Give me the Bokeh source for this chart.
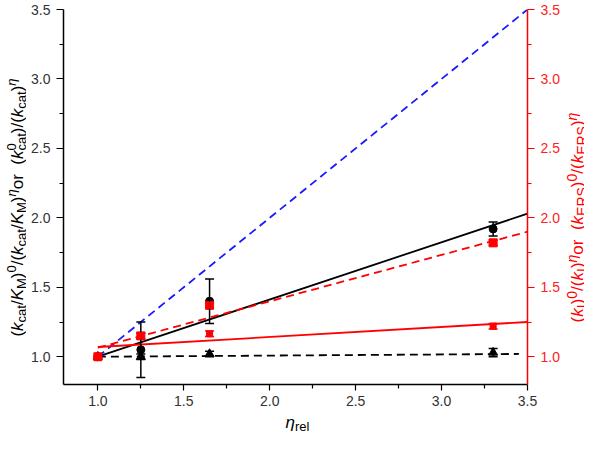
import math
from bokeh.plotting import figure
from bokeh.layouts import row, column
from bokeh.models import (Range1d, LinearAxis, FixedTicker, NumeralTickFormatter,
                          Whisker, ColumnDataSource, TeeHead)
from bokeh.core.properties import value
from bokeh.embed import file_html
from bokeh.resources import INLINE

# ---------------- data ----------------
eta_rel = [1.0, 1.25, 1.65, 3.3]
kcatKM_ratio = [1.00, 1.05, 1.40, 1.92]
kcatKM_err = [0.0, 0.20, 0.16, 0.05]
kcat_ratio = [1.00, 1.00, 1.02, 1.03]
kcat_err = [0.0, 0.02, 0.02, 0.03]
kI_ratio = [1.00, 1.15, 1.37, 1.82]
kI_err = [0.0, 0.02, 0.02, 0.02]
kERS_ratio = [1.00, 1.15, 1.165, 1.22]
kERS_err = [0.0, 0.02, 0.02, 0.02]

fit_x = [1.0, 3.5]
ideal_y = [1.0, 3.5]
kcatKM_fit = [1.0, 2.03]
kI_fit = [1.065, 1.90]
kERS_fit = [1.07, 1.25]
kcat_fit_x = [1.0, 3.45]
kcat_fit = [1.0, 1.02]

major_ticks = [1.0, 1.5, 2.0, 2.5, 3.0, 3.5]
minor_ticks = [1.25, 1.75, 2.25, 2.75, 3.25]

FONT = "Liberation Sans"

# ---------------- layout ----------------
TOTAL_W, TOTAL_H = 584, 433
LSTRIP, RSTRIP, BSTRIP = 26, 22, 21
FW, FH = 464, 375
BL, BR, BT, BB = 37, 35, 9, 28
MAIN_H = BT + FH + BB
X0, X1, Y0, Y1 = 0.8, 3.5, 0.8, 3.5

p = figure(frame_width=FW, frame_height=FH,
           x_range=Range1d(X0, X1), y_range=Range1d(Y0, Y1),
           min_border_left=BL, min_border_right=BR,
           min_border_top=BT, min_border_bottom=BB,
           output_backend="svg", toolbar_location=None)
p.grid.visible = False
p.outline_line_color = None
p.background_fill_color = "white"
p.border_fill_color = "white"


def style_axis(ax, color, label_color, tick_out, standoff):
    ax.ticker = FixedTicker(ticks=major_ticks, minor_ticks=minor_ticks)
    ax.formatter = NumeralTickFormatter(format="0.0")
    ax.axis_line_color = color
    ax.axis_line_width = 1.5
    ax.major_tick_line_color = color
    ax.minor_tick_line_color = color
    ax.major_tick_line_width = 1.2
    ax.minor_tick_line_width = 1.2
    ax.major_tick_in = 0
    ax.major_tick_out = tick_out
    ax.minor_tick_in = 0
    ax.minor_tick_out = 4
    ax.major_label_standoff = standoff
    ax.major_label_text_font = FONT
    ax.major_label_text_font_size = "14px"
    ax.major_label_text_color = label_color


style_axis(p.xaxis[0], "black", "#333333", 6, 5)
style_axis(p.yaxis[0], "black", "#333333", 7, 6)

rax = LinearAxis()
style_axis(rax, "red", "#ff2020", 7, 6)
p.add_layout(rax, "right")

# ---------------- fit lines ----------------
p.line(fit_x, ideal_y, line_color="#1a1aff", line_width=1.8, line_dash="8 5")
p.line(fit_x, kcatKM_fit, line_color="black", line_width=1.8)
p.line(fit_x, kI_fit, line_color="red", line_width=1.8, line_dash="8 5")
p.line(fit_x, kERS_fit, line_color="red", line_width=1.8)
p.line(kcat_fit_x, kcat_fit, line_color="black", line_width=1.8, line_dash="8 5")


# ---------------- error bars ----------------
def whiskers(ys, errs, color):
    xs = [x for x, e in zip(eta_rel, errs) if e > 0]
    up = [y + e for y, e in zip(ys, errs) if e > 0]
    lo = [y - e for y, e in zip(ys, errs) if e > 0]
    src = ColumnDataSource(dict(x=xs, upper=up, lower=lo))
    w = Whisker(source=src, base="x", upper="upper", lower="lower",
                line_color=color, line_width=1.5, level="glyph",
                upper_head=TeeHead(size=9, line_color=color, line_width=1.5),
                lower_head=TeeHead(size=9, line_color=color, line_width=1.5))
    p.add_layout(w)


whiskers(kcatKM_ratio, kcatKM_err, "black")
whiskers(kcat_ratio, kcat_err, "black")
whiskers(kI_ratio, kI_err, "red")
whiskers(kERS_ratio, kERS_err, "red")

# ---------------- markers ----------------
p.scatter(eta_rel, kcatKM_ratio, marker="circle", size=8, color="black")
p.scatter(eta_rel, kcat_ratio, marker="triangle", size=9, color="black")
p.scatter(eta_rel, kI_ratio, marker="square", size=8, color="red")
p.scatter(eta_rel, kERS_ratio, marker="square", size=6, color="red")

# ---------------- rich-text axis titles (in strip figures) ----------------
W = {'(': .333, ')': .333, '/': .278, ' ': .278, '0': .556, 'k': .5, 'K': .667,
     'c': .5, 'a': .556, 't': .278, 'M': .833, 'o': .556, 'r': .333, 'I': .278,
     'E': .667, 'R': .722, 'S': .667, 'e': .556, 'l': .222, 'η': .556}

SUB_SHIFT, SUP_SHIFT = 4, -6


def tw(s, size):
    return sum(W.get(c, .556) for c in s) * size


def seg(t, kind="n", it=False, adv=True):
    return (t, kind, it, adv)


def strip(w, h):
    f = figure(frame_width=w, frame_height=h, x_range=Range1d(0, w),
               y_range=Range1d(0, h), min_border=0,
               x_axis_location=None, y_axis_location=None,
               output_backend="svg", toolbar_location=None)
    f.grid.visible = False
    f.outline_line_color = None
    f.border_fill_color = "white"
    f.background_fill_color = "white"
    return f


def rich(f, h, pieces, base, center, vertical, color, main, small):
    """base/center in pixels from the strip's top-left; baseline shift down = +."""
    total = sum(tw(t, main if k == "n" else small) for t, k, it, adv in pieces if adv)
    pos = -total / 2
    xs, ys, txt, sizes, styles = [], [], [], [], []
    for t, kind, it, adv in pieces:
        size = main if kind == "n" else small
        shift = 0 if kind == "n" else (SUB_SHIFT if kind == "sub" else SUP_SHIFT)
        if vertical:
            cx, cy = base + shift, center - pos
        else:
            cx, cy = center + pos, base + shift
        xs.append(cx)
        ys.append(h - cy)
        txt.append(t)
        sizes.append(f"{size}px")
        styles.append("italic" if it else "normal")
        if adv:
            pos += tw(t, size)
    src = ColumnDataSource(dict(x=xs, y=ys, text=txt, size=sizes, style=styles))
    f.text(x="x", y="y", text="text", source=src,
           angle=math.pi / 2 if vertical else 0,
           text_font=value(FONT), text_font_size="size", text_font_style="style",
           text_color=color, text_align="left", text_baseline="alphabetic")


left_pieces = [
    seg("("), seg("k", it=True), seg("cat", "sub"), seg("/"), seg("K", it=True),
    seg("M", "sub"), seg(")"), seg("0", "sup"), seg("/"), seg("("),
    seg("k", it=True), seg("cat", "sub"), seg("/"), seg("K", it=True),
    seg("M", "sub"), seg(")"), seg("η", "sup", True), seg(" or "), seg("("),
    seg("k", it=True), seg("0", "sup", adv=False), seg("cat", "sub"), seg(")"), seg("/"),
    seg("("), seg("k", it=True), seg("cat", "sub"), seg(")"), seg("η", "sup", True),
]
right_pieces = [
    seg("("), seg("k", it=True), seg("I", "sub"), seg(")"), seg("0", "sup"),
    seg("/"), seg("("), seg("k", it=True), seg("I", "sub"), seg(")"),
    seg("η", "sup", True), seg(" or "), seg("("), seg("k", it=True),
    seg("ERS", "sub"), seg(")"), seg("0", "sup"), seg("/"), seg("("),
    seg("k", it=True), seg("ERS", "sub"), seg(")"), seg("η", "sup", True),
]
x_pieces = [seg("η", it=True), seg("rel", "sub")]

lf = strip(LSTRIP, MAIN_H)
rich(lf, MAIN_H, left_pieces, base=17, center=198, vertical=True, color="black",
     main=17, small=13)

rf = strip(RSTRIP, MAIN_H)
rich(rf, MAIN_H, right_pieces, base=15, center=208, vertical=True, color="red",
     main=17, small=14)

bf = strip(TOTAL_W, BSTRIP)
rich(bf, BSTRIP, x_pieces, base=10, center=297, vertical=False, color="black",
     main=17, small=13)

layout = column(row(lf, p, rf, spacing=0), bf, spacing=0)

open("out.html", "w").write(file_html(layout, INLINE))
